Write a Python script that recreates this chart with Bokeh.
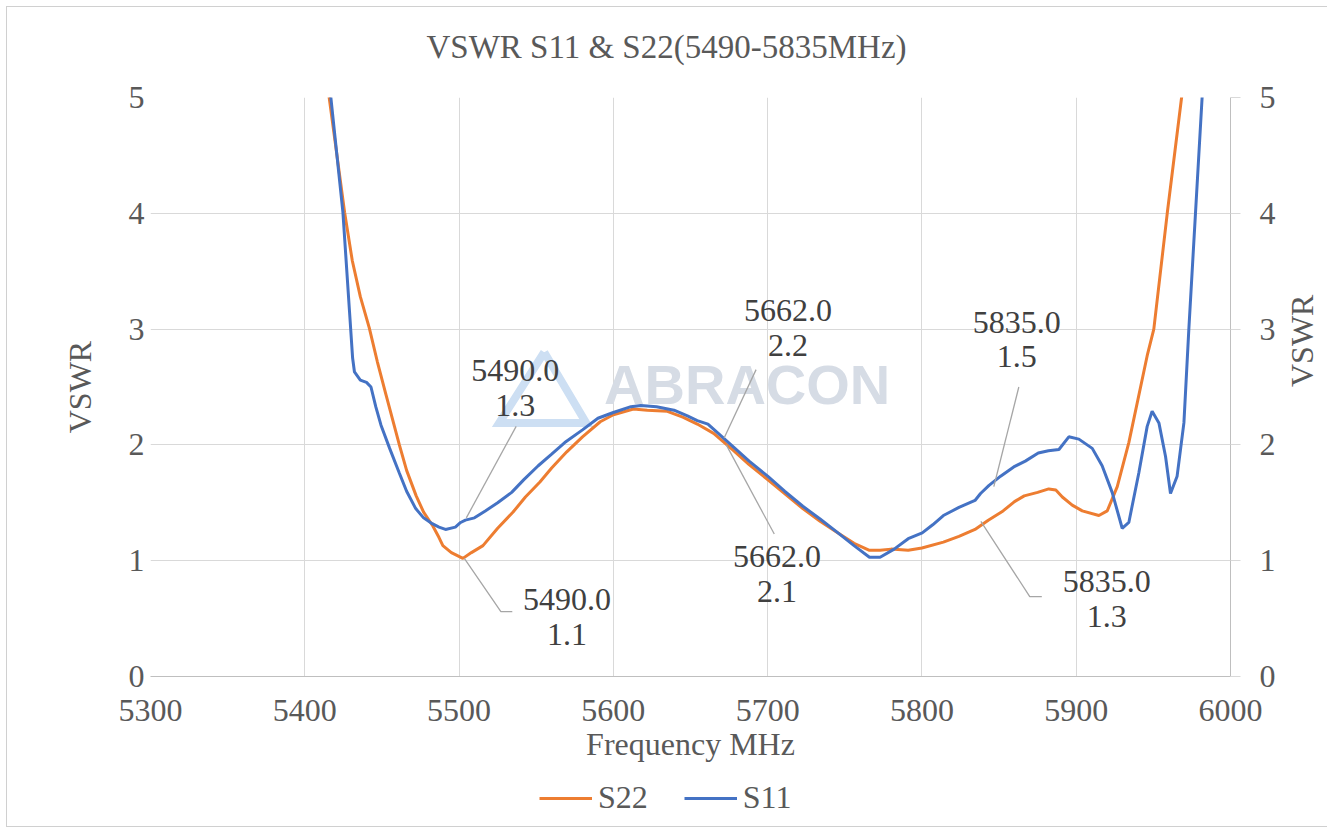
import math
from bokeh.plotting import figure
from bokeh.layouts import column
from bokeh.models import LinearAxis, Legend, LegendItem, FixedTicker, Range1d, Label
from bokeh.core.properties import value
from bokeh.embed import file_html
from bokeh.resources import INLINE

# ---------------- data ----------------
title_text = "VSWR S11 & S22(5490-5835MHz)"
x_label = "Frequency MHz"
y_label = "VSWR"
x_ticks = [5300, 5400, 5500, 5600, 5700, 5800, 5900, 6000]
y_ticks = [0, 1, 2, 3, 4, 5]
series_names = ["S22", "S11"]

s22_freq = [5415.3, 5425.8, 5430.8, 5436.0, 5441.8, 5447.0, 5452.7, 5461.3, 5466.0, 5472.2,
            5477.0, 5483.0, 5487.0, 5489.5, 5495.0, 5502.5, 5508.0, 5515.5, 5525.0, 5535.0,
            5543.0, 5552.4, 5560.0, 5569.8, 5580.0, 5591.5, 5600.0, 5613.0, 5622.0, 5635.0,
            5645.0, 5654.4, 5665.0, 5677.2, 5688.0, 5700.0, 5711.0, 5722.8, 5734.0, 5745.6,
            5756.0, 5766.0, 5772.9, 5780.0, 5791.1, 5800.0, 5813.9, 5824.0, 5834.4, 5843.0,
            5852.6, 5860.0, 5866.3, 5875.0, 5882.2, 5886.8, 5891.0, 5897.4, 5903.9, 5914.7,
            5920.1, 5926.6, 5934.1, 5946.0, 5950.3, 5959.0, 5968.3, 5970.5]
s22_vswr = [5.05, 4.01, 3.59, 3.28, 3.01, 2.72, 2.43, 2.00, 1.78, 1.56,
            1.42, 1.30, 1.20, 1.13, 1.07, 1.02, 1.07, 1.13, 1.28, 1.42,
            1.55, 1.68, 1.80, 1.94, 2.07, 2.20, 2.26, 2.31, 2.30, 2.29,
            2.24, 2.18, 2.10, 1.96, 1.83, 1.70, 1.58, 1.45, 1.34, 1.24,
            1.15, 1.09, 1.09, 1.10, 1.09, 1.11, 1.16, 1.21, 1.27, 1.35,
            1.43, 1.51, 1.56, 1.59, 1.62, 1.61, 1.55, 1.48, 1.43, 1.39,
            1.43, 1.64, 2.02, 2.77, 3.00, 4.00, 5.00, 5.25]

s11_freq = [5416.5, 5424.7, 5429.0, 5431.0, 5432.2, 5436.0, 5440.0, 5442.9, 5446.0, 5449.4,
            5455.0, 5461.2, 5466.0, 5471.9, 5477.0, 5482.6, 5487.0, 5491.2, 5497.6, 5501.0,
            5504.1, 5510.0, 5517.0, 5525.0, 5534.1, 5542.0, 5551.3, 5560.0, 5568.5, 5580.0,
            5590.0, 5600.0, 5611.4, 5617.8, 5628.0, 5639.3, 5648.0, 5654.4, 5661.3, 5668.0,
            5677.2, 5688.0, 5700.0, 5711.0, 5722.8, 5734.0, 5745.6, 5756.0, 5766.0, 5772.9,
            5782.0, 5791.1, 5800.2, 5807.0, 5813.9, 5824.0, 5834.4, 5838.0, 5843.5, 5851.0,
            5859.5, 5867.0, 5875.4, 5882.0, 5888.8, 5895.2, 5901.7, 5910.4, 5916.8, 5923.3,
            5929.8, 5934.1, 5940.6, 5946.0, 5949.2, 5953.6, 5957.9, 5961.1, 5965.4, 5969.8,
            5973.0, 5977.3, 5981.6, 5983.0]
s11_vswr = [5.05, 4.01, 3.15, 2.75, 2.63, 2.56, 2.54, 2.50, 2.33, 2.17,
            1.97, 1.76, 1.60, 1.45, 1.37, 1.32, 1.29, 1.27, 1.29, 1.33,
            1.35, 1.37, 1.43, 1.50, 1.59, 1.70, 1.82, 1.92, 2.02, 2.13,
            2.23, 2.28, 2.33, 2.34, 2.33, 2.30, 2.25, 2.21, 2.18, 2.10,
            1.99, 1.86, 1.73, 1.60, 1.47, 1.36, 1.24, 1.13, 1.03, 1.03,
            1.10, 1.19, 1.24, 1.31, 1.39, 1.46, 1.52, 1.58, 1.65, 1.73,
            1.81, 1.86, 1.93, 1.95, 1.96, 2.07, 2.05, 1.97, 1.82, 1.59,
            1.28, 1.33, 1.76, 2.16, 2.29, 2.19, 1.90, 1.58, 1.73, 2.19,
            3.00, 4.00, 5.00, 5.30]

# data labels (as printed on the chart)
ann_freq_text = ["5490.0", "5490.0", "5662.0", "5662.0", "5835.0", "5835.0"]
ann_vswr_text = ["1.3", "1.1", "2.2", "2.1", "1.5", "1.3"]

# ---------------- placement ----------------
ann_text_x = [5536.4, 5570.0, 5713.2, 5706.1, 5861.5, 5919.8]
ann_text_y1 = [2.64, 0.665, 3.16, 1.04, 3.06, 0.82]
ann_text_y2 = [2.34, 0.363, 2.86, 0.73, 2.76, 0.52]
ann_leader_x = [[5537.0, 5504.7], [5503.4, 5527.1, 5534.5], [5692.5, 5671.8],
                [5704.3, 5673.2], [5862.8, 5846.6], [5877.7, 5869.9, 5838.2]]
ann_leader_y = [[2.16, 1.37], [1.02, 0.56, 0.56], [2.65, 2.06],
                [1.23, 2.00], [2.50, 1.64], [0.69, 0.69, 1.34]]

wm_x, wm_y = 5594.0, 2.52
logo_x = [5555.2, 5526.0, 5582.4, 5555.2]
logo_y = [2.80, 2.19, 2.19, 2.80]

SERIF = "Liberation Serif"
TXT = "#595959"
ORANGE = "#ED7D31"
BLUE = "#4472C4"
FRAME_W = 1080
LEFT = 143
TITLE_H = 70
LEG_H = 50


def strip(h):
    f = figure(frame_width=FRAME_W, frame_height=h,
               x_range=Range1d(0, FRAME_W), y_range=Range1d(0, h),
               x_axis_location=None, y_axis_location=None,
               output_backend="svg", toolbar_location=None,
               min_border_left=LEFT, min_border_right=0,
               min_border_top=0, min_border_bottom=0)
    f.grid.visible = False
    f.outline_line_color = None
    f.background_fill_color = "white"
    f.border_fill_color = "white"
    return f


# ---------- title strip ----------
pt = strip(TITLE_H)
pt.add_layout(Label(x=516, y=31, x_units="screen", y_units="screen", text=title_text,
                    text_font=SERIF, text_font_size="33px", text_color=TXT,
                    text_align="center", text_baseline="middle"))

# ---------- main chart ----------
p = figure(frame_width=FRAME_W, frame_height=579,
           x_range=Range1d(5300, 6000), y_range=Range1d(0, 5),
           output_backend="svg", toolbar_location=None,
           min_border_left=LEFT, min_border_right=80,
           min_border_top=20, min_border_bottom=100)
p.outline_line_color = None
p.background_fill_color = "white"
p.border_fill_color = "white"

p.xaxis.ticker = FixedTicker(ticks=x_ticks)
p.yaxis.ticker = FixedTicker(ticks=y_ticks)
p.xaxis.axis_label = x_label
p.yaxis.axis_label = y_label
for ax in (p.xaxis[0], p.yaxis[0]):
    ax.major_label_text_font = SERIF
    ax.major_label_text_font_size = "32px"
    ax.major_label_text_color = TXT
    ax.axis_label_text_font = SERIF
    ax.axis_label_text_font_size = "32px"
    ax.axis_label_text_font_style = "normal"
    ax.axis_label_text_color = TXT
    ax.minor_tick_line_color = None
    ax.major_tick_in = 0
    ax.major_tick_out = 0
p.xaxis.axis_line_color = "#bfbfbf"
p.xaxis.major_label_standoff = 23
p.xaxis.axis_label_standoff = 2
p.yaxis.axis_line_color = None
p.yaxis.major_label_standoff = 6
p.yaxis.axis_label_standoff = 28

ry = LinearAxis(ticker=FixedTicker(ticks=y_ticks), axis_label=y_label)
ry.major_label_text_font = SERIF
ry.major_label_text_font_size = "32px"
ry.major_label_text_color = TXT
ry.axis_label_text_font = SERIF
ry.axis_label_text_font_size = "32px"
ry.axis_label_text_font_style = "normal"
ry.axis_label_text_color = TXT
ry.axis_label_orientation = math.pi / 2
ry.minor_tick_line_color = None
ry.major_tick_in = 0
ry.major_tick_out = 10
ry.major_tick_line_color = "#d9d9d9"
ry.axis_line_color = "#bfbfbf"
ry.major_label_standoff = 19
ry.axis_label_standoff = 23
p.add_layout(ry, "right")

p.xgrid.ticker = FixedTicker(ticks=x_ticks)
p.ygrid.ticker = FixedTicker(ticks=y_ticks)
p.xgrid.grid_line_color = "#d9d9d9"
p.ygrid.grid_line_color = "#d9d9d9"

# watermark
p.line(logo_x, logo_y, line_color="#cddff3", line_width=8, line_join="miter")
p.text(x=[wm_x], y=[wm_y], text=["ABRACON"], text_font=value("Liberation Sans"),
       text_font_style="bold", text_font_size="56px", text_color="#d6dce5",
       text_align="left", text_baseline="middle")

# series
p.line(s22_freq, s22_vswr, line_color=ORANGE, line_width=3)
p.line(s11_freq, s11_vswr, line_color=BLUE, line_width=3)

# data labels
p.multi_line(ann_leader_x, ann_leader_y, line_color="#a6a6a6", line_width=1.3)
for ys, txt in ((ann_text_y1, ann_freq_text), (ann_text_y2, ann_vswr_text)):
    p.text(x=ann_text_x, y=ys, text=txt, text_font=value(SERIF), text_font_size="32px",
           text_color="#404040", text_align="center", text_baseline="middle")

# ---------- legend strip ----------
pl = strip(LEG_H)
lr22 = pl.line(x=[-20, -10], y=[-20, -20], line_color=ORANGE, line_width=3)
lr11 = pl.line(x=[-20, -10], y=[-20, -20], line_color=BLUE, line_width=3)
legend = Legend(items=[LegendItem(label=series_names[0], renderers=[lr22]),
                       LegendItem(label=series_names[1], renderers=[lr11])],
                orientation="horizontal", location=(389, 10),
                padding=0, margin=0, spacing=36, label_standoff=6,
                glyph_width=53, glyph_height=20, label_height=36,
                border_line_color=None, background_fill_alpha=0,
                label_text_font=SERIF, label_text_font_size="32px",
                label_text_color=TXT)
pl.add_layout(legend)

layout = column(pt, p, pl, spacing=0)
layout.styles = {"border": "1px solid #d0d0d0", "margin-left": "6px", "margin-top": "6px",
                 "background-color": "white"}

open("out.html", "w").write(file_html(layout, INLINE))
